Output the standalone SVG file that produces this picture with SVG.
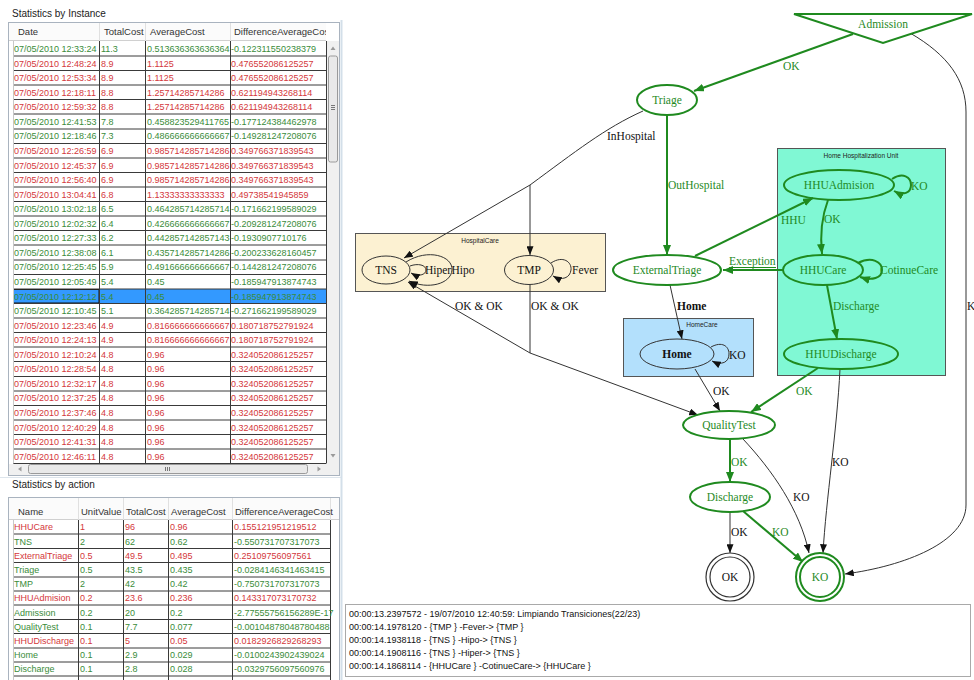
<svg xmlns="http://www.w3.org/2000/svg" width="974" height="680" viewBox="0 0 974 680">
<defs>
<style>
.tt{font-family:"Liberation Sans",Arial,sans-serif;font-size:10px;fill:#222}
.hd{font-family:"Liberation Sans",Arial,sans-serif;font-size:9.5px;fill:#333}
.cell text{font-family:"Liberation Sans",Arial,sans-serif;font-size:9px}
.g text{fill:#3a8c3a}
.r text{fill:#d4373b}
.grid{stroke:#3a3a3a;stroke-width:1;fill:none}
.lg{font-family:"Liberation Sans",Arial,sans-serif;font-size:9px;fill:#111}
.eg{stroke:#1f8a1f;stroke-width:2;fill:none}
.ek{stroke:#333;stroke-width:1;fill:none}
.ng{stroke:#1f8a1f;stroke-width:2;fill:none}
.nk{stroke:#333;stroke-width:1;fill:none}
.lt{font-family:"Liberation Serif","Times New Roman",serif;font-size:11.5px}
.tg{fill:#1f8a1f}
.tk{fill:#111}
.cl{font-family:"Liberation Sans",Arial,sans-serif;font-size:6.5px;fill:#222}
.sb{fill:#f0f0f0}
.th{fill:#e9e9e9;stroke:#9a9a9a;stroke-width:1}
.ar{fill:#9a9a9a}
</style>
<marker id="ag" viewBox="0 0 10 8" refX="10" refY="4" markerWidth="10" markerHeight="8" orient="auto" markerUnits="userSpaceOnUse"><path d="M0,0 L10,4 L0,8 z" fill="#1f8a1f"/></marker>
<marker id="ak" viewBox="0 0 10 8" refX="10" refY="4" markerWidth="9" markerHeight="7" orient="auto" markerUnits="userSpaceOnUse"><path d="M0,0 L10,4 L0,8 z" fill="#111"/></marker>
<clipPath id="c1"><rect x="9" y="23" width="317" height="441"/></clipPath>
<clipPath id="c2"><rect x="9" y="498" width="330" height="182"/></clipPath>
</defs>
<rect width="974" height="680" fill="#fff"/>

<!-- ===== Statistics by Instance ===== -->
<g id="table-instance">
<text class="tt" x="12" y="17">Statistics by Instance</text>
<rect x="8.5" y="22.5" width="331" height="453" fill="#fff" stroke="#a9b3bf"/>
<rect x="9" y="23" width="317" height="18" fill="#fbfbfb"/>
<line x1="9" y1="40.5" x2="326" y2="40.5" stroke="#d0d0d0"/>
<path d="M99.5,23V41 M145.5,23V41 M230.5,23V41" stroke="#e0e0e0"/>
<g clip-path="url(#c1)">
<text class="hd" x="18" y="35">Date</text>
<text class="hd" x="104" y="35">TotalCost</text>
<text class="hd" x="150" y="35">AverageCost</text>
<text class="hd" x="234" y="35">DifferenceAverageCost</text>
</g>
<rect x="13" y="289" width="313" height="14.5" fill="#3399ff"/>
<rect x="13.5" y="289.5" width="85.5" height="13.5" fill="none" stroke="#111"/>
<path class="grid" d="M13,56H326M13,70.5H326M13,85H326M13,99.5H326M13,114H326M13,129H326M13,143.5H326M13,158H326M13,172.5H326M13,187H326M13,201.5H326M13,216H326M13,230.5H326M13,245H326M13,260H326M13,274.5H326M13,289H326M13,303.5H326M13,318H326M13,332.5H326M13,347H326M13,361.5H326M13,376.5H326M13,391H326M13,405.5H326M13,420H326M13,434.5H326M13,449H326M13,463.5H326"/>
<path class="grid" d="M99.5,41V463.5M145.5,41V463.5M230.5,41V463.5M326.5,41V463.5"/>
<line x1="13.5" y1="41" x2="13.5" y2="463.5" stroke="#c8c8c8"/>
<g class="cell">
<g class="g" transform="translate(0,52)"><text x="14">07/05/2010 12:33:24</text><text x="101">11.3</text><text x="147">0.513636363636364</text><text x="231">-0.122311550238379</text></g>
<g class="r" transform="translate(0,66.6)"><text x="14">07/05/2010 12:48:24</text><text x="101">8.9</text><text x="147">1.1125</text><text x="231">0.476552086125257</text></g>
<g class="r" transform="translate(0,81.1)"><text x="14">07/05/2010 12:53:34</text><text x="101">8.9</text><text x="147">1.1125</text><text x="231">0.476552086125257</text></g>
<g class="r" transform="translate(0,95.7)"><text x="14">07/05/2010 12:18:11</text><text x="101">8.8</text><text x="147">1.25714285714286</text><text x="231">0.621194943268114</text></g>
<g class="r" transform="translate(0,110.2)"><text x="14">07/05/2010 12:59:32</text><text x="101">8.8</text><text x="147">1.25714285714286</text><text x="231">0.621194943268114</text></g>
<g class="g" transform="translate(0,124.8)"><text x="14">07/05/2010 12:41:53</text><text x="101">7.8</text><text x="147">0.458823529411765</text><text x="231">-0.177124384462978</text></g>
<g class="g" transform="translate(0,139.4)"><text x="14">07/05/2010 12:18:46</text><text x="101">7.3</text><text x="147">0.486666666666667</text><text x="231">-0.149281247208076</text></g>
<g class="r" transform="translate(0,153.9)"><text x="14">07/05/2010 12:26:59</text><text x="101">6.9</text><text x="147">0.985714285714286</text><text x="231">0.349766371839543</text></g>
<g class="r" transform="translate(0,168.5)"><text x="14">07/05/2010 12:45:37</text><text x="101">6.9</text><text x="147">0.985714285714286</text><text x="231">0.349766371839543</text></g>
<g class="r" transform="translate(0,183)"><text x="14">07/05/2010 12:56:40</text><text x="101">6.9</text><text x="147">0.985714285714286</text><text x="231">0.349766371839543</text></g>
<g class="r" transform="translate(0,197.6)"><text x="14">07/05/2010 13:04:41</text><text x="101">6.8</text><text x="147">1.13333333333333</text><text x="231">0.49738541945859</text></g>
<g class="g" transform="translate(0,212.2)"><text x="14">07/05/2010 13:02:18</text><text x="101">6.5</text><text x="147">0.464285714285714</text><text x="231">-0.171662199589029</text></g>
<g class="g" transform="translate(0,226.7)"><text x="14">07/05/2010 12:02:32</text><text x="101">6.4</text><text x="147">0.426666666666667</text><text x="231">-0.209281247208076</text></g>
<g class="g" transform="translate(0,241.3)"><text x="14">07/05/2010 12:27:33</text><text x="101">6.2</text><text x="147">0.442857142857143</text><text x="231">-0.1930907710176</text></g>
<g class="g" transform="translate(0,255.8)"><text x="14">07/05/2010 12:38:08</text><text x="101">6.1</text><text x="147">0.435714285714286</text><text x="231">-0.200233628160457</text></g>
<g class="g" transform="translate(0,270.4)"><text x="14">07/05/2010 12:25:45</text><text x="101">5.9</text><text x="147">0.491666666666667</text><text x="231">-0.144281247208076</text></g>
<g class="g" transform="translate(0,285)"><text x="14">07/05/2010 12:05:49</text><text x="101">5.4</text><text x="147">0.45</text><text x="231">-0.185947913874743</text></g>
<g class="g" transform="translate(0,299.5)"><text x="14">07/05/2010 12:12:12</text><text x="101">5.4</text><text x="147">0.45</text><text x="231">-0.185947913874743</text></g>
<g class="g" transform="translate(0,314.1)"><text x="14">07/05/2010 12:10:45</text><text x="101">5.1</text><text x="147">0.364285714285714</text><text x="231">-0.271662199589029</text></g>
<g class="r" transform="translate(0,328.6)"><text x="14">07/05/2010 12:23:46</text><text x="101">4.9</text><text x="147">0.816666666666667</text><text x="231">0.180718752791924</text></g>
<g class="r" transform="translate(0,343.2)"><text x="14">07/05/2010 12:24:13</text><text x="101">4.9</text><text x="147">0.816666666666667</text><text x="231">0.180718752791924</text></g>
<g class="r" transform="translate(0,357.8)"><text x="14">07/05/2010 12:10:24</text><text x="101">4.8</text><text x="147">0.96</text><text x="231">0.324052086125257</text></g>
<g class="r" transform="translate(0,372.3)"><text x="14">07/05/2010 12:28:54</text><text x="101">4.8</text><text x="147">0.96</text><text x="231">0.324052086125257</text></g>
<g class="r" transform="translate(0,386.9)"><text x="14">07/05/2010 12:32:17</text><text x="101">4.8</text><text x="147">0.96</text><text x="231">0.324052086125257</text></g>
<g class="r" transform="translate(0,401.4)"><text x="14">07/05/2010 12:37:25</text><text x="101">4.8</text><text x="147">0.96</text><text x="231">0.324052086125257</text></g>
<g class="r" transform="translate(0,416)"><text x="14">07/05/2010 12:37:46</text><text x="101">4.8</text><text x="147">0.96</text><text x="231">0.324052086125257</text></g>
<g class="r" transform="translate(0,430.6)"><text x="14">07/05/2010 12:40:29</text><text x="101">4.8</text><text x="147">0.96</text><text x="231">0.324052086125257</text></g>
<g class="r" transform="translate(0,445.1)"><text x="14">07/05/2010 12:41:31</text><text x="101">4.8</text><text x="147">0.96</text><text x="231">0.324052086125257</text></g>
<g class="r" transform="translate(0,459.7)"><text x="14">07/05/2010 12:46:11</text><text x="101">4.8</text><text x="147">0.96</text><text x="231">0.324052086125257</text></g>
</g>
<!-- scrollbars -->
<rect class="sb" x="327" y="41" width="12" height="423"/>
<path class="ar" d="M330.5,50 L333,46.5 L335.5,50 z"/>
<rect class="th" x="328.5" y="56" width="9" height="106" rx="2"/>
<path d="M331,105.5H335M331,107.5H335M331,109.5H335" stroke="#777"/>
<path class="ar" d="M330.5,454 L333,457.5 L335.5,454 z"/>
<rect class="sb" x="9" y="464" width="330" height="11"/>
<path class="ar" d="M21.5,466.5 L18,469 L21.5,471.5 z"/>
<rect class="th" x="28.5" y="464.5" width="279" height="9" rx="2"/>
<path d="M165.5,467V471M167.5,467V471M169.5,467V471" stroke="#777"/>
<path class="ar" d="M317.5,466.5 L321,469 L317.5,471.5 z"/>
</g>

<line x1="0" y1="477.5" x2="341" y2="477.5" stroke="#dde5ec"/>

<!-- ===== Statistics by action ===== -->
<g id="table-action">
<text class="tt" x="12" y="488">Statistics by action</text>
<rect x="8.5" y="497.5" width="331" height="190" fill="#fff" stroke="#a9b3bf"/>
<rect x="9" y="498" width="330" height="21" fill="#fbfbfb"/>
<line x1="9" y1="519.5" x2="339" y2="519.5" stroke="#d0d0d0"/>
<path d="M78.5,498V520 M123.5,498V520 M168.5,498V520 M232.5,498V520 M330.5,498V520" stroke="#e0e0e0"/>
<text class="hd" x="18" y="515">Name</text>
<text class="hd" x="81" y="515">UnitValue</text>
<text class="hd" x="126" y="515">TotalCost</text>
<text class="hd" x="171" y="515">AverageCost</text>
<text class="hd" x="235" y="515">DifferenceAverageCost</text>
<g clip-path="url(#c2)">
<path class="grid" d="M13,534H330M13,548.5H330M13,562.5H330M13,577H330M13,591H330M13,605H330M13,619.5H330M13,633.5H330M13,648H330M13,662H330M13,676H330"/>
<path class="grid" d="M78.5,520V680M123.5,520V680M168.5,520V680M232.5,520V680M330.5,520V680"/>
<line x1="13.5" y1="520" x2="13.5" y2="680" stroke="#c8c8c8"/>
<g class="cell">
<g class="r" transform="translate(0,530.3)"><text x="14">HHUCare</text><text x="80">1</text><text x="125">96</text><text x="170">0.96</text><text x="234">0.155121951219512</text></g>
<g class="g" transform="translate(0,544.5)"><text x="14">TNS</text><text x="80">2</text><text x="125">62</text><text x="170">0.62</text><text x="234">-0.550731707317073</text></g>
<g class="r" transform="translate(0,558.7)"><text x="14">ExternalTriage</text><text x="80">0.5</text><text x="125">49.5</text><text x="170">0.495</text><text x="234">0.25109756097561</text></g>
<g class="g" transform="translate(0,572.9)"><text x="14">Triage</text><text x="80">0.5</text><text x="125">43.5</text><text x="170">0.435</text><text x="234">-0.0284146341463415</text></g>
<g class="g" transform="translate(0,587.1)"><text x="14">TMP</text><text x="80">2</text><text x="125">42</text><text x="170">0.42</text><text x="234">-0.750731707317073</text></g>
<g class="r" transform="translate(0,601.3)"><text x="14">HHUAdmision</text><text x="80">0.2</text><text x="125">23.6</text><text x="170">0.236</text><text x="234">0.143317073170732</text></g>
<g class="g" transform="translate(0,615.5)"><text x="14">Admission</text><text x="80">0.2</text><text x="125">20</text><text x="170">0.2</text><text x="234">-2.77555756156289E-17</text></g>
<g class="g" transform="translate(0,629.7)"><text x="14">QualityTest</text><text x="80">0.1</text><text x="125">7.7</text><text x="170">0.077</text><text x="234">-0.00104878048780488</text></g>
<g class="r" transform="translate(0,643.9)"><text x="14">HHUDischarge</text><text x="80">0.1</text><text x="125">5</text><text x="170">0.05</text><text x="234">0.0182926829268293</text></g>
<g class="g" transform="translate(0,658.1)"><text x="14">Home</text><text x="80">0.1</text><text x="125">2.9</text><text x="170">0.029</text><text x="234">-0.0100243902439024</text></g>
<g class="g" transform="translate(0,672.3)"><text x="14">Discharge</text><text x="80">0.1</text><text x="125">2.8</text><text x="170">0.028</text><text x="234">-0.0329756097560976</text></g>
</g>
</g>
</g>

<!-- graph panel border -->
<line x1="341.5" y1="20" x2="341.5" y2="680" stroke="#d3dfe9" stroke-width="2"/>

<!-- ===== Clusters ===== -->
<g id="cluster-hospitalcare">
<rect x="355.5" y="233.5" width="250" height="58" fill="#fcf1d2" stroke="#555"/>
<text class="cl" x="480" y="243" text-anchor="middle">HospitalCare</text>
</g>
<g id="cluster-hhu">
<rect x="777.5" y="148.5" width="168" height="227" fill="#80f8d4" stroke="#555"/>
<text class="cl" x="861" y="158" text-anchor="middle">Home Hospitalization Unit</text>
</g>
<g id="cluster-homecare">
<rect x="623.5" y="318.5" width="130" height="58" fill="#b3e0fc" stroke="#555"/>
<text class="cl" x="702" y="327" text-anchor="middle">HomeCare</text>
</g>

<!-- ===== Connectors ===== -->
<g id="connectors">
<path class="eg" d="M853,34 L694,91" marker-end="url(#ag)"/>
<text class="lt tg" x="783" y="70">OK</text>
<path class="eg" d="M667,115 L667,255" marker-end="url(#ag)"/>
<text class="lt tg" x="668" y="189">OutHospital</text>
<path class="ek" d="M643,111 C605,128 575,152 530,185"/>
<path class="ek" d="M530,185 L404,258" marker-end="url(#ak)"/>
<path class="ek" d="M530,185 L530,255" marker-end="url(#ak)"/>
<text class="lt tk" x="607" y="140">InHospital</text>
<path class="ek" d="M406,262 C428,248 453,256 452,270 C451,284 428,290 409,281" marker-end="url(#ak)"/>
<path class="ek" d="M410,266 C418,263 426,265 426,270 C426,275 418,277 411,273" marker-end="url(#ak)"/>
<text class="lt tk" x="425" y="274">Hiper</text>
<text class="lt tk" x="451.5" y="274">Hipo</text>
<path class="ek" d="M551,263 C563,255 572,262 571,270 C570,278 562,281 553,276" marker-end="url(#ak)"/>
<text class="lt tk" x="572" y="274">Fever</text>
<path class="ek" d="M530,285 L530,353"/>
<path class="ek" d="M530,353 L408,282" marker-end="url(#ak)"/>
<path class="ek" d="M530,353 L698,415" marker-end="url(#ak)"/>
<text class="lt tk" x="455" y="310">OK &amp; OK</text>
<text class="lt tk" x="531" y="310">OK &amp; OK</text>
<path class="eg" d="M695,256 L813,198" marker-end="url(#ag)"/>
<text class="lt tg" x="781" y="224">HHU</text>
<path class="eg" d="M784,270 L723,270" marker-end="url(#ag)"/>
<text class="lt tg" x="729" y="265">Exception</text>
<path d="M729,267.5H776M753,267.5V270" stroke="#1f8a1f" stroke-width="1"/>
<path class="eg" d="M892,179 C903,172 911,177 911,185 C911,193 903,196 894,191" marker-end="url(#ag)"/>
<text class="lt tg" x="911" y="190">KO</text>
<path class="eg" d="M828,200 C822,216 820,235 822,254" marker-end="url(#ag)"/>
<text class="lt tg" x="824" y="223">OK</text>
<path class="eg" d="M858,263 C872,256 882,262 882,270 C882,278 872,281 860,277" marker-end="url(#ag)"/>
<text class="lt tg" x="880" y="274">CotinueCare</text>
<path class="eg" d="M827,285 L837,339" marker-end="url(#ag)"/>
<text class="lt tg" x="833" y="310">Discharge</text>
<path class="eg" d="M818,368 L751,412" marker-end="url(#ag)"/>
<text class="lt tg" x="796" y="395">OK</text>
<path class="ek" d="M840,369 C837,430 826,500 823,553" marker-end="url(#ak)"/>
<text class="lt tk" x="832" y="466">KO</text>
<path class="ek" d="M670,285 L682,339" marker-end="url(#ak)"/>
<text class="lt tk" x="677" y="310" font-weight="bold">Home</text>
<path class="ek" d="M711,347 C722,341 729,346 729,354 C729,362 722,366 712,361" marker-end="url(#ak)"/>
<text class="lt tk" x="729" y="359">KO</text>
<path class="ek" d="M695,369 L720,411" marker-end="url(#ak)"/>
<text class="lt tk" x="713" y="395">OK</text>
<path class="eg" d="M730,439 L730,482" marker-end="url(#ag)"/>
<text class="lt tg" x="731" y="466">OK</text>
<path class="ek" d="M743,439 C772,470 800,510 809,553" marker-end="url(#ak)"/>
<text class="lt tk" x="793" y="501">KO</text>
<path class="ek" d="M730,512 L730,553" marker-end="url(#ak)"/>
<text class="lt tk" x="731" y="536">OK</text>
<path class="eg" d="M743,511 L803,562" marker-end="url(#ag)"/>
<text class="lt tg" x="772" y="536">KO</text>
<path class="ek" d="M910,33 C948,55 966,80 966,112 L966,505 C966,542 905,566 845,574" marker-end="url(#ak)"/>
<text class="lt tk" x="967" y="310">KO</text>
</g>

<!-- ===== Nodes ===== -->
<g id="node-admission">
<polygon points="794,14 972,14 883,43" fill="#fff" stroke="#1f8a1f" stroke-width="2"/>
<text class="lt tg" x="883" y="28" text-anchor="middle">Admission</text>
</g>
<g id="node-triage">
<ellipse class="ng" cx="667" cy="100" rx="30" ry="15" fill="#fff"/>
<text class="lt tg" x="667" y="104" text-anchor="middle">Triage</text>
</g>
<g id="node-tns">
<ellipse class="nk" cx="386" cy="270" rx="24" ry="14"/>
<text class="lt tk" x="386" y="274" text-anchor="middle">TNS</text>
</g>
<g id="node-tmp">
<ellipse class="nk" cx="529" cy="270" rx="24.5" ry="14.5"/>
<text class="lt tk" x="529" y="274" text-anchor="middle">TMP</text>
</g>
<g id="node-externaltriage">
<ellipse class="ng" cx="667" cy="270" rx="54" ry="15" fill="#fff"/>
<text class="lt tg" x="667" y="274" text-anchor="middle">ExternalTriage</text>
</g>
<g id="node-hhuadmision">
<ellipse class="ng" cx="839" cy="185" rx="55" ry="15"/>
<text class="lt tg" x="839" y="189" text-anchor="middle">HHUAdmision</text>
</g>
<g id="node-hhucare">
<ellipse class="ng" cx="823" cy="270" rx="40" ry="15"/>
<text class="lt tg" x="823" y="274" text-anchor="middle">HHUCare</text>
</g>
<g id="node-hhudischarge">
<ellipse class="ng" cx="841" cy="354" rx="57" ry="15"/>
<text class="lt tg" x="841" y="358" text-anchor="middle">HHUDischarge</text>
</g>
<g id="node-home">
<ellipse class="nk" cx="677" cy="354" rx="37" ry="15"/>
<text class="lt tk" x="677" y="358" text-anchor="middle" font-weight="bold">Home</text>
</g>
<g id="node-qualitytest">
<ellipse class="ng" cx="729" cy="425" rx="46" ry="14" fill="#fff"/>
<text class="lt tg" x="729" y="429" text-anchor="middle">QualityTest</text>
</g>
<g id="node-discharge">
<ellipse class="ng" cx="730" cy="497" rx="40" ry="15" fill="#fff"/>
<text class="lt tg" x="730" y="501" text-anchor="middle">Discharge</text>
</g>
<g id="node-ok">
<circle cx="730" cy="577" r="24" fill="#fff" stroke="#333" stroke-width="1.2"/>
<circle cx="730" cy="577" r="20" fill="none" stroke="#333" stroke-width="1.2"/>
<text class="lt tk" x="730" y="581" text-anchor="middle">OK</text>
</g>
<g id="node-ko">
<circle cx="820" cy="577" r="24" fill="#fff" stroke="#1f8a1f" stroke-width="2"/>
<circle cx="820" cy="577" r="20" fill="none" stroke="#1f8a1f" stroke-width="2"/>
<text class="lt tg" x="820" y="581" text-anchor="middle">KO</text>
</g>

<!-- ===== Log ===== -->
<g id="log">
<rect x="345.5" y="604.5" width="625" height="72" fill="#fff" stroke="#a9a9a9"/>
<text class="lg" x="349" y="617">00:00:13.2397572 - 19/07/2010 12:40:59: Limpiando Transiciones(22/23)</text>
<text class="lg" x="349" y="630">00:00:14.1978120 - {TMP } -Fever-&gt; {TMP }</text>
<text class="lg" x="349" y="643">00:00:14.1938118 - {TNS } -Hipo-&gt; {TNS }</text>
<text class="lg" x="349" y="656">00:00:14.1908116 - {TNS } -Hiper-&gt; {TNS }</text>
<text class="lg" x="349" y="669">00:00:14.1868114 - {HHUCare } -CotinueCare-&gt; {HHUCare }</text>
</g>
</svg>
